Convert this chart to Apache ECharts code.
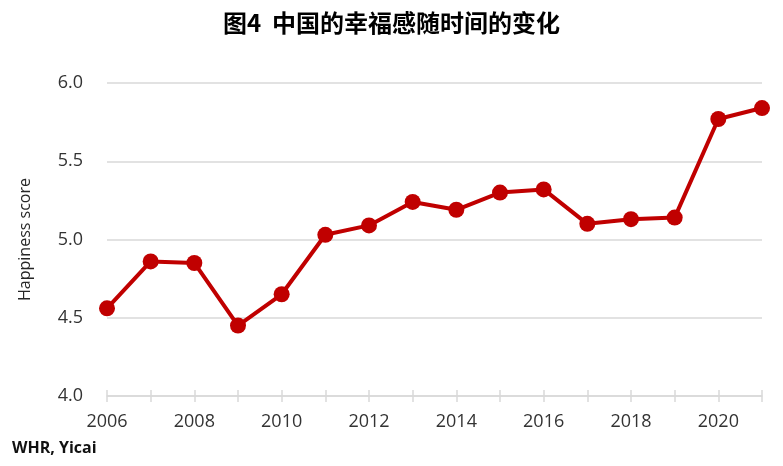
<!DOCTYPE html>
<html><head><meta charset="utf-8">
<script src="https://cdn.jsdelivr.net/npm/echarts@6/dist/echarts.min.js"></script>
<style>html,body{margin:0;padding:0;background:#fff}#c{width:783px;height:466px}</style>
</head><body><div id="c"></div>
<script>
const years = ['2006','2007','2008','2009','2010','2011','2012','2013','2014','2015','2016','2017','2018','2019','2020','2021'];
const scores = [4.56,4.86,4.85,4.45,4.65,5.03,5.09,5.24,5.19,5.30,5.32,5.10,5.13,5.14,5.77,5.84];
const yTicks = {min:4.0, max:6.0, interval:0.5};

const chart = echarts.init(document.getElementById('c'));
chart.setOption({
  animation:false,
  backgroundColor:'#fff',
  title:{text:'图4  中国的幸福感随时间的变化', left:'center', top:6,
    textStyle:{fontFamily:'Noto Sans CJK SC', fontSize:24, fontWeight:'bold', color:'#000'}},
  graphic:[{type:'text', left:12, top:440, style:{text:'WHR, Yicai', font:'bold 16px "Open Sans"', fill:'#111'}}],
  grid:{left:107, right:21, top:83, bottom:70},
  xAxis:[{
    type:'category', data:years, boundaryGap:false,
    axisLine:{lineStyle:{color:'#d9d9d9', width:1.5}},
    axisTick:{show:true, interval:0, length:6, lineStyle:{color:'#d9d9d9', width:1.5}},
    axisLabel:{interval:1, fontFamily:'Open Sans', fontSize:18, color:'#333', margin:17},
    splitLine:{show:false}
  },{
    type:'category', data:years, boundaryGap:false, position:'bottom',
    axisLine:{show:false},
    axisTick:{show:true, inside:true, interval:0, length:6, lineStyle:{color:'#d9d9d9', width:1.5}},
    axisLabel:{show:false}, splitLine:{show:false}
  }],
  yAxis:{
    type:'value', min:yTicks.min, max:yTicks.max, interval:yTicks.interval,
    name:'Happiness score', nameLocation:'middle', nameGap:74, nameRotate:90,
    nameTextStyle:{fontFamily:'Open Sans', fontSize:16, color:'#262626'},
    axisLine:{show:false}, axisTick:{show:false},
    axisLabel:{fontFamily:'Open Sans', fontSize:18, color:'#333', margin:24,
      formatter:v=>v.toFixed(1)},
    splitLine:{lineStyle:{color:'#d9d9d9', width:1.5}}
  },
  series:[{
    type:'line', data:scores, xAxisIndex:0,
    lineStyle:{color:'#C00000', width:4},
    itemStyle:{color:'#C00000'},
    symbol:'circle', symbolSize:16, showSymbol:true
  }]
});
</script></body></html>
